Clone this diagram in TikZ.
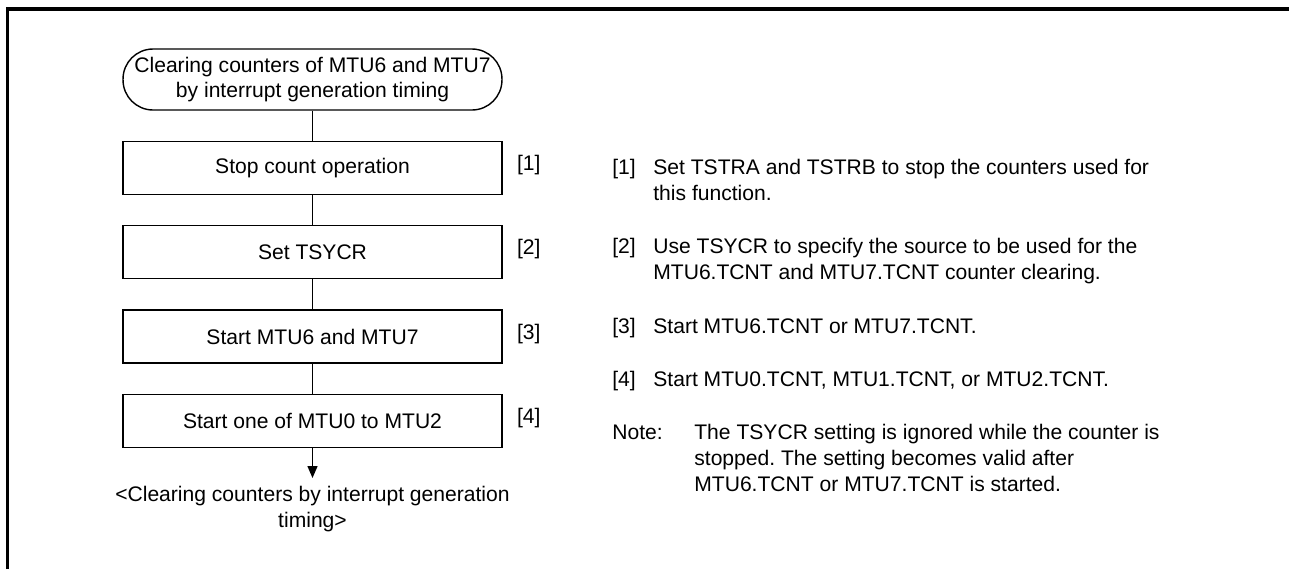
\documentclass[tikz,border=0pt]{standalone}
\usepackage{fontspec}
\setmainfont{Liberation Sans}
\usetikzlibrary{arrows.meta,positioning}
\frenchspacing

\begin{document}
\begin{tikzpicture}[x=0.02cm, y=-0.02cm, >={Triangle[length=2.4mm,width=2mm]},
  font=\fontsize{12}{14.74}\selectfont,
  stepbox/.style={draw, line width=0.8pt, minimum width=7.58cm, minimum height=1.06cm, inner sep=0pt},
  term/.style={draw, line width=0.8pt, rounded corners=0.6cm, minimum width=7.58cm, minimum height=1.22cm, align=center, inner sep=0pt},
  steplabel/.style={inner sep=0pt, yshift=0.06cm},
  txt/.style={anchor=base west, inner sep=0pt, align=left}]
  \useasboundingbox (0,0) rectangle (1289,569);
  % frame
  \draw[line width=1.9pt] (7.7,569) -- (7.7,9) -- (1289,9);
  % flow chart
  \node[term] (start) at (312.5,79.5) {Clearing counters of MTU6 and MTU7\\by interrupt generation timing};
  \node[stepbox, below=0.6cm of start] (s1) {Stop count operation};
  \node[stepbox, below=0.6cm of s1] (s2) {Set TSYCR};
  \node[stepbox, below=0.6cm of s2] (s3) {Start MTU6 and MTU7};
  \node[stepbox, below=0.6cm of s3] (s4) {Start one of MTU0 to MTU2};
  \coordinate (end) at (312.5,478);
  \node[below=0.16cm of end, align=center, inner sep=0pt] (result) {<Clearing counters by interrupt generation\\timing>};
  \draw[line width=0.8pt] (start) -- (s1);
  \draw[line width=0.8pt] (s1) -- (s2);
  \draw[line width=0.8pt] (s2) -- (s3);
  \draw[line width=0.8pt] (s3) -- (s4);
  \draw[line width=0.8pt, ->] (s4) -- (end);
  % step numbers
  \node[steplabel, right=0.28cm of s1] (l1) {[1]};
  \node[steplabel, right=0.28cm of s2] (l2) {[2]};
  \node[steplabel, right=0.28cm of s3] (l3) {[3]};
  \node[steplabel, right=0.28cm of s4] (l4) {[4]};
  % explanations (base = last line)
  \node[txt] (k1) at (612,174.5) {[1]};
  \node[txt] (d1) at (653,200.5) {Set TSTRA and TSTRB to stop the counters used for\\this function.};
  \node[txt] (k2) at (612,253.5) {[2]};
  \node[txt] (d2) at (653,279.5) {Use TSYCR to specify the source to be used for the\\MTU6.TCNT and MTU7.TCNT counter clearing.};
  \node[txt] (k3) at (612,333.5) {[3]};
  \node[txt] (d3) at (653,333.5) {Start MTU6.TCNT or MTU7.TCNT.};
  \node[txt] (k4) at (612,386.5) {[4]};
  \node[txt] (d4) at (653,386.5) {Start MTU0.TCNT, MTU1.TCNT, or MTU2.TCNT.};
  \node[txt] (kn) at (612,439.5) {Note:};
  \node[txt] (dn) at (694,491.5) {The TSYCR setting is ignored while the counter is\\stopped. The setting becomes valid after\\MTU6.TCNT or MTU7.TCNT is started.};
\end{tikzpicture}
\end{document}
